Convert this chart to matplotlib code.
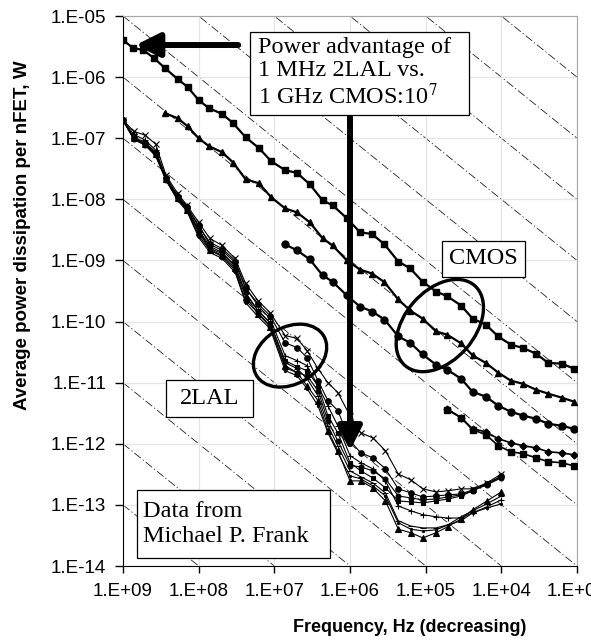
import numpy as np
import matplotlib
matplotlib.use("Agg")
import matplotlib.pyplot as plt
from matplotlib.patches import Ellipse, Rectangle
from matplotlib.ticker import FixedLocator, FuncFormatter, NullLocator
from matplotlib.transforms import IdentityTransform, ScaledTranslation

# frequencies (Hz) of the CMOS measurements
freq_cmos = [1.0e9, 7.4e8, 5.4e8, 3.9e8, 2.8e8, 1.9e8, 1.4e8, 1.0e8, 7.3e7, 4.9e7,
             3.5e7, 2.4e7, 1.6e7, 1.1e7, 7.2e6, 5.0e6, 3.4e6, 2.3e6, 1.7e6, 1.1e6,
             7.4e5, 5.1e5, 3.5e5, 2.3e5, 1.6e5, 1.1e5, 7.3e4, 5.2e4, 3.4e4, 2.4e4,
             1.6e4, 1.1e4, 7.5e3, 5.2e3, 3.5e3, 2.4e3, 1.6e3, 1.1e3]

cmos_squares = [4.05e-6, 3.0e-6, 2.77e-6, 2.05e-6, 1.41e-6, 9.3e-7, 6.9e-7, 4.2e-7, 3.1e-7, 2.5e-7,
                1.76e-7, 1.04e-7, 6.9e-8, 4.2e-8, 3.0e-8, 2.7e-8, 1.76e-8, 9.6e-9, 8.0e-9, 4.9e-9,
                2.9e-9, 2.7e-9, 1.83e-9, 9.6e-10, 7.4e-10, 4.5e-10, 3.1e-10, 2.6e-10, 1.83e-10, 1.12e-10,
                8.9e-11, 5.7e-11, 4.2e-11, 3.7e-11, 3.0e-11, 2.1e-11, 2.05e-11, 1.7e-11]

# triangles start at 2.8e8 Hz
cmos_triangles = [2.57e-7, 2.13e-7, 1.57e-7, 1.0e-7, 7.4e-8, 5.9e-8, 4.0e-8, 2.13e-8, 1.83e-8, 1.08e-8,
                  7.1e-9, 6.1e-9, 4.2e-9, 2.3e-9, 1.76e-9, 1.0e-9, 7.1e-10, 6.1e-10, 4.4e-10, 2.3e-10,
                  1.51e-10, 1.12e-10, 6.9e-11, 6.1e-11, 4.4e-11, 2.8e-11, 2.1e-11, 1.46e-11, 1.08e-11, 9.6e-12,
                  7.7e-12, 6.6e-12, 5.7e-12, 4.9e-12]

# circles start at 7.2e6 Hz
cmos_circles = [1.83e-9, 1.46e-9, 1.04e-9, 5.7e-10, 4.5e-10, 2.67e-10, 1.76e-10, 1.46e-10, 1.08e-10, 5.7e-11,
                4.5e-11, 2.9e-11, 1.97e-11, 1.63e-11, 1.16e-11, 7.1e-12, 5.9e-12, 4.2e-12, 3.35e-12, 2.9e-12,
                2.57e-12, 2.13e-12, 1.97e-12, 1.76e-12]

# low-power CMOS pair, start at 5.2e4 Hz
cmos_low_a = [3.75e-12, 2.67e-12, 1.76e-12, 1.57e-12, 1.21e-12, 1.04e-12, 9.3e-13, 8.6e-13, 7.4e-13, 7.1e-13, 6.6e-13]
cmos_low_b = [3.6e-12, 2.67e-12, 1.7e-12, 1.41e-12, 9.3e-13, 7.4e-13, 6.9e-13, 5.9e-13, 5.1e-13, 4.9e-13, 4.35e-13]

# 2LAL measurements
freq_2lal = [1.0e9, 7.2e8, 5.1e8, 3.7e8, 2.7e8, 1.9e8, 1.43e8, 1.0e8, 7.1e7, 4.9e7,
             3.3e7, 2.4e7, 1.65e7, 1.14e7, 7.2e6, 5.0e6, 3.7e6, 2.65e6, 1.96e6, 1.45e6,
             1.0e6, 7.2e5, 5.0e5, 3.4e5, 2.3e5, 1.57e5, 1.09e5, 7.3e4, 5.1e4, 3.4e4,
             2.4e4, 1.55e4, 1.0e4]

lal_x = [1.97e-7, 1.3e-7, 1.12e-7, 8.0e-8, 2.47e-8, 1.25e-8, 8.0e-9, 4.2e-9, 2.29e-9, 1.76e-9,
         1.08e-9, 4.2e-10, 2.21e-10, 1.4e-10, 5.9e-11, 5.3e-11, 3.35e-11, 1.7e-11, 1.0e-11, 6.9e-12,
         2.88e-12, 1.51e-12, 1.25e-12, 7.7e-13, 3.2e-13, 2.57e-13, 1.83e-13, 1.63e-13, 1.7e-13, 1.83e-13,
         1.83e-13, 2.29e-13, 3.2e-13]
lal_o1 = [1.97e-7, 1.0e-7, 8.3e-8, 5.7e-8, 2.21e-8, 1.08e-8, 7.4e-9, 3.75e-9, 1.83e-9, 1.46e-9,
          9.3e-10, 3.5e-10, 1.97e-10, 1.25e-10, 4.5e-11, 3.75e-11, 2.57e-11, 1.08e-11, 5.1e-12, 3.5e-12,
          1.12e-12, 7.1e-13, 5.9e-13, 3.9e-13, 1.83e-13, 1.57e-13, 1.35e-13, 1.4e-13, 1.46e-13, 1.51e-13,
          1.76e-13, 2.21e-13, 2.99e-13]
lal_s = [1.97e-7, 1.0e-7, 8.0e-8, 5.5e-8, 2.13e-8, 1.04e-8, 7.1e-9, 3.1e-9, 1.57e-9, 1.3e-9,
         8.0e-10, 2.99e-10, 1.51e-10, 9.6e-11, 2.29e-11, 1.83e-11, 1.57e-11, 8.9e-12, 2.88e-12, 1.51e-12,
         4.9e-13, 3.6e-13, 2.77e-13, 1.9e-13, 1.16e-13, 1.12e-13, 1.08e-13, 1.16e-13, 1.25e-13, 1.4e-13,
         1.7e-13, 2.21e-13, 2.88e-13]
lal_o2 = [1.97e-7, 9.6e-8, 7.7e-8, 5.3e-8, 2.05e-8, 1.0e-8, 6.6e-9, 2.57e-9, 1.46e-9, 1.16e-9,
          6.9e-10, 2.21e-10, 1.4e-10, 8.6e-11, 1.76e-11, 1.46e-11, 1.3e-11, 7.4e-12, 2.38e-12, 1.12e-12,
          4.4e-13, 4.2e-13, 3.6e-13, 2.67e-13, 1.4e-13, 1.3e-13, 1.21e-13, 1.25e-13, 1.35e-13, 1.46e-13,
          1.7e-13, 2.13e-13, 2.77e-13]
lal_plus = [1.97e-7, 1.16e-7, 9.3e-8, 6.4e-8, 2.29e-8, 1.16e-8, 7.7e-9, 3.6e-9, 1.97e-9, 1.57e-9,
            1.0e-9, 3.6e-10, 1.83e-10, 1.12e-10, 2.77e-11, 2.29e-11, 1.9e-11, 8.9e-12, 4.2e-12, 1.97e-12,
            6.4e-13, 4.9e-13, 3.9e-13, 2.47e-13, 9.6e-14, 8.0e-14, 6.9e-14, 6.4e-14, 6.1e-14, 6.1e-14,
            7.4e-14, 9.3e-14, 1.21e-13]
lal_dash = [1.97e-7, 1.04e-7, 8.6e-8, 5.9e-8, 2.21e-8, 1.08e-8, 7.1e-9, 3.2e-9, 1.7e-9, 1.35e-9,
            8.3e-10, 2.88e-10, 1.51e-10, 9.6e-11, 2.13e-11, 1.7e-11, 1.16e-11, 6.1e-12, 1.97e-12, 9.3e-13,
            3.6e-13, 2.88e-13, 2.29e-13, 1.57e-13, 5.5e-14, 4.5e-14, 4.2e-14, 4.2e-14, 4.7e-14, 6.4e-14,
            8.0e-14, 1.04e-13, 1.4e-13]
lal_tri = [1.97e-7, 1.0e-7, 8.0e-8, 5.5e-8, 2.13e-8, 1.04e-8, 6.6e-9, 2.88e-9, 1.51e-9, 1.21e-9,
           7.4e-10, 2.57e-10, 1.35e-10, 8.3e-11, 1.9e-11, 1.46e-11, 8.9e-12, 5.1e-12, 1.63e-12, 7.7e-13,
           2.47e-13, 2.47e-13, 1.9e-13, 1.16e-13, 4.0e-14, 3.5e-14, 2.88e-14, 3.5e-14, 4.4e-14, 5.9e-14,
           8.3e-14, 1.16e-13, 1.63e-13]
lal_dot = [1.97e-7, 9.6e-8, 7.7e-8, 5.1e-8, 2.05e-8, 9.6e-9, 6.4e-9, 2.38e-9, 1.35e-9, 1.08e-9,
           6.4e-10, 2.05e-10, 1.21e-10, 7.7e-11, 1.57e-11, 1.3e-11, 8.0e-12, 4.2e-12, 1.51e-12, 7.1e-13,
           2.99e-13, 2.67e-13, 2.05e-13, 1.4e-13, 5.1e-14, 4.0e-14, 3.75e-14, 3.9e-14, 4.7e-14, 5.5e-14,
           7.4e-14, 8.9e-14, 1.04e-13]

# constant-energy guide lines (J per cycle)
energies = [1e-22, 1e-21, 1e-20, 1e-19, 1e-18, 1e-17, 1e-16, 1e-15, 1e-14, 1e-13, 1e-12, 1e-11, 1e-10, 1e-9]
decades = [1e3, 1e4, 1e5, 1e6, 1e7, 1e8, 1e9]
power_decades = [1e-14, 1e-13, 1e-12, 1e-11, 1e-10, 1e-9, 1e-8, 1e-7, 1e-6, 1e-5]

serif = ["Liberation Serif", "DejaVu Serif"]
sans = ["Liberation Sans", "DejaVu Sans"]
plt.rcParams["mathtext.fontset"] = "stix"

fig = plt.figure(figsize=(5.91, 6.42), dpi=100)
ax = fig.add_axes([123 / 591, 76 / 642, 454 / 591, 550 / 642])
ax.set_xscale("log")
ax.set_yscale("log")
ax.set_xlim(1e9, 1e3)
ax.set_ylim(1e-14, 1e-5)

# grid + energy diagonals
ax.grid(True, which="major", color="#e6e6e6", lw=0.9, zorder=0)
f_line = np.array([1e9, 1e3])
for e in energies:
    ax.plot(f_line, e * f_line, color="#222222", lw=0.6, ls=(0, (10, 3, 1.5, 3)), zorder=1)

# CMOS curves
n = len(freq_cmos)
ax.plot(freq_cmos, cmos_squares, "s-", color="black", lw=1.6, ms=5, zorder=3)
ax.plot(freq_cmos[n - len(cmos_triangles):], cmos_triangles, "^-", color="black", lw=1.6, ms=5, zorder=3)
ax.plot(freq_cmos[n - len(cmos_circles):], cmos_circles, "o-", color="black", lw=1.6, ms=5, zorder=3)
ax.plot(freq_cmos[n - len(cmos_low_a):], cmos_low_a, "D-", color="black", lw=1.2, ms=3.5, zorder=3)
ax.plot(freq_cmos[n - len(cmos_low_b):], cmos_low_b, "s-", color="black", lw=1.2, ms=4, zorder=3)

# 2LAL curves
for vals, mk, ms in [(lal_x, "x", 4), (lal_o1, "o", 4), (lal_s, "s", 3.5), (lal_o2, "o", 3.5),
                     (lal_plus, "+", 5), (lal_dash, "_", 4), (lal_tri, "^", 4), (lal_dot, ".", 3)]:
    ax.plot(freq_2lal, vals, marker=mk, ms=ms, color="black", lw=0.8, mew=0.8, zorder=3)

# axes styling
ax.xaxis.set_major_locator(FixedLocator(decades))
ax.yaxis.set_major_locator(FixedLocator(power_decades))
ax.xaxis.set_minor_locator(NullLocator())
ax.yaxis.set_minor_locator(NullLocator())
fmt = FuncFormatter(lambda v, p: "1.E%+03d" % int(round(np.log10(v))))
ax.xaxis.set_major_formatter(fmt)
ax.yaxis.set_major_formatter(fmt)
ax.tick_params(axis="x", direction="out", length=5, width=1, pad=7, labelsize=13.5)
ax.tick_params(axis="y", direction="out", length=6, width=1, pad=6, labelsize=13.5)
for lab in ax.get_xticklabels() + ax.get_yticklabels():
    lab.set_family(sans)
for side in ["top", "right"]:
    ax.spines[side].set_color("#a8a8a8")
for side in ["left", "bottom"]:
    ax.spines[side].set_color("black")

fig.text(410 / 591, 1 - 628 / 642, "Frequency, Hz (decreasing)", ha="center", va="center",
         fontsize=13, fontweight="bold", family=sans)
fig.text(23 / 591, 1 - 235 / 642, "Average power dissipation per nFET, W", ha="center", va="center",
         rotation=90, fontsize=13.5, fontweight="bold", family=sans)

# arrows
arrow = dict(arrowstyle="-|>,head_length=0.9,head_width=0.45", lw=4.3, color="black",
             mutation_scale=16, shrinkA=0, shrinkB=0)
ax.annotate("", xy=(6.8e8, 3.35e-6), xytext=(3e7, 3.35e-6), arrowprops=arrow, zorder=5)
ax.annotate("", xy=(1e6, 7.7e-13), xytext=(1e6, 1e-6), arrowprops=arrow, zorder=5)

# ellipses (sized in pixels, centred on data points)
for (fc, pc), w, h, ang in [((6.5e4, 8.6e-11), 106, 70, 49), ((6.2e6, 2.77e-11), 78, 57, 30)]:
    tr = IdentityTransform() + ScaledTranslation(fc, pc, ax.transData)
    ax.add_patch(Ellipse((0, 0), w, h, angle=ang, transform=tr, fill=False, lw=2.4,
                         edgecolor="black", zorder=6))

# text boxes: (x0, y0, x1, y1) in axes fraction, then label placement
boxes = [
    ((0.2797, 0.8200, 0.7621, 0.9709), 0.2974, 0.8955, "left", 1.12,
     "Power advantage of\n1 MHz 2LAL vs.\n1 GHz CMOS:10$^{7}$"),
    ((0.7026, 0.5255, 0.8855, 0.5909), 0.7930, 0.5582, "center", 1.0, "CMOS"),
    ((0.0947, 0.2709, 0.2863, 0.3382), 0.1916, 0.3045, "center", 1.0, "2LAL"),
    ((0.0308, 0.0145, 0.4559, 0.1382), 0.0441, 0.0764, "left", 1.25, "Data from\nMichael P. Frank"),
]
for (x0, y0, x1, y1), tx, ty, ha, lsp, label in boxes:
    ax.add_patch(Rectangle((x0, y0), x1 - x0, y1 - y0, transform=ax.transAxes, fc="white",
                           ec="black", lw=0.9, zorder=7))
    ax.text(tx, ty, label, transform=ax.transAxes, ha=ha, va="center", multialignment="left",
            fontsize=17.5, family=serif, linespacing=lsp, zorder=8)

fig.savefig("out.png", dpi=100)
